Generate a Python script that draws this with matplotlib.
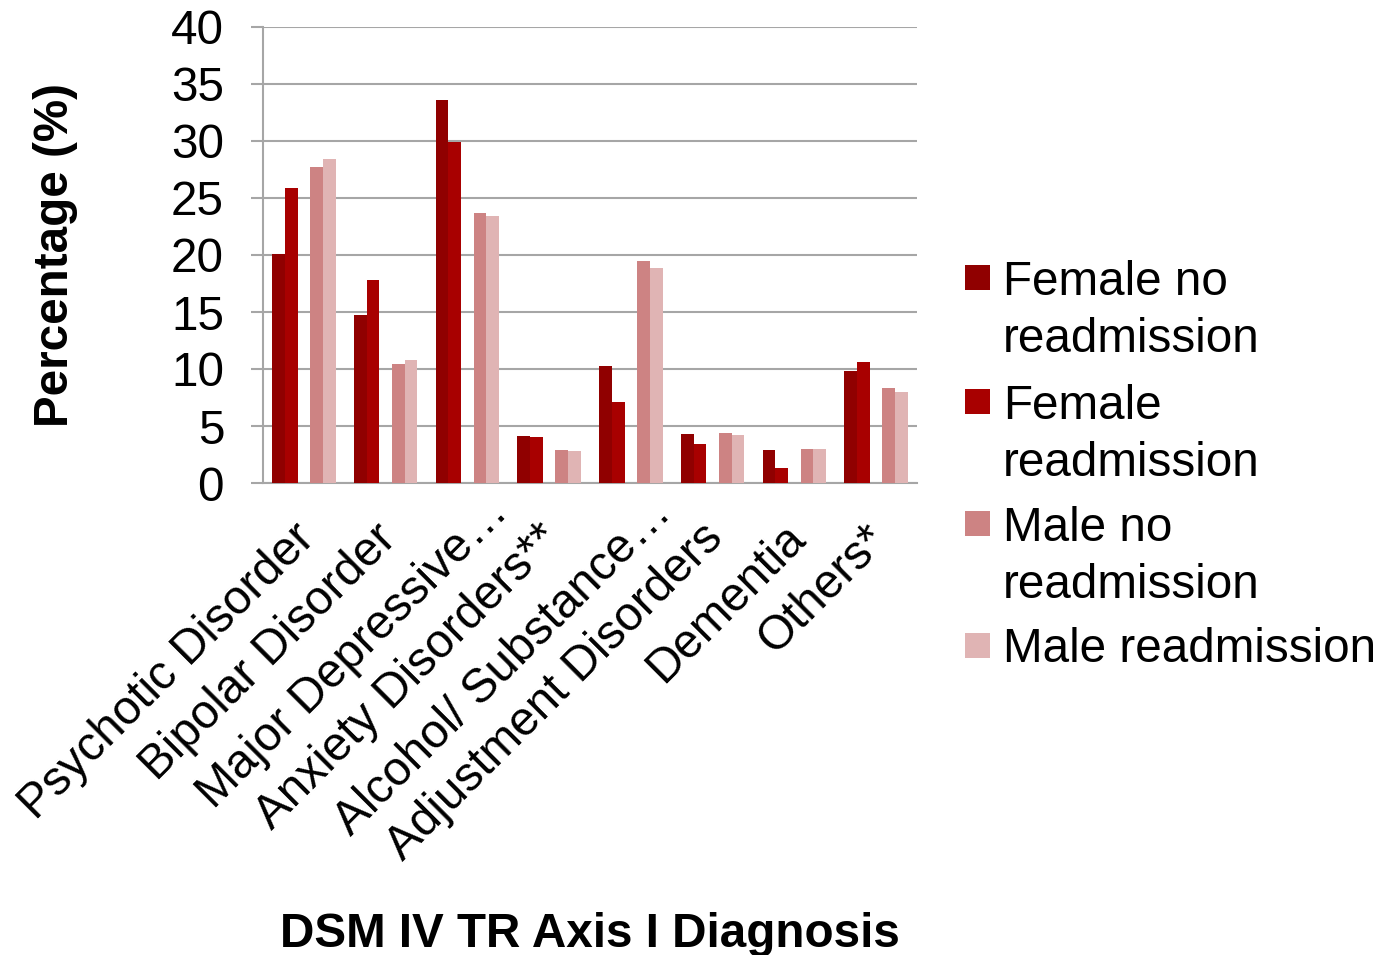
import matplotlib
matplotlib.use("Agg")
import matplotlib.pyplot as plt
import matplotlib.transforms as mtransforms
import numpy as np
from matplotlib.patches import Rectangle

plt.rcParams["font.family"] = ["Liberation Sans", "DejaVu Sans"]

# ── Data ─────────────────────────────────────────────────────────────────────

categories = [
    "Psychotic Disorder", "Bipolar Disorder", "Major Depressive…",
    "Anxiety Disorders**", "Alcohol/ Substance…", "Adjustment Disorders",
    "Dementia", "Others*",
]
series_names = [
    "Female no\nreadmission", "Female\nreadmission",
    "Male no\nreadmission", "Male readmission",
]
female_no_readm = [20.1, 14.7, 33.6, 4.15, 10.3, 4.3, 2.9, 9.8]
female_readm = [25.9, 17.8, 29.9, 4.05, 7.1, 3.4, 1.3, 10.6]
male_no_readm = [27.7, 10.4, 23.7, 2.9, 19.5, 4.4, 3.0, 8.3]
male_readm = [28.4, 10.8, 23.4, 2.8, 18.9, 4.2, 3.0, 8.0]

COLORS = ["#900000", "#A80000", "#CD8383", "#E0B4B4"]
FS = 34.3
GRID = "#A6A6A6"

# ── Figure ───────────────────────────────────────────────────────────────────

fig = plt.figure(figsize=(13.83, 9.55), dpi=100)
W, H = 1383, 955
ax = fig.add_axes([263 / W, 1 - 483 / H, (917 - 263) / W, (483 - 27) / H])

x = np.arange(len(categories))
bw = 0.155
offsets = [-2.0, -1.0, 1.0, 2.0]   # empty slot in the middle of each group
all_series = [female_no_readm, female_readm, male_no_readm, male_readm]
for vals, off, col in zip(all_series, offsets, COLORS):
    ax.bar(x + off * bw, vals, width=bw, color=col, zorder=3)

ax.set_xlim(-0.5, len(categories) - 0.5)
ax.set_ylim(0, 40)
ax.set_yticks(np.arange(0, 41, 5))
ax.yaxis.grid(True, color=GRID, linewidth=1.5, zorder=0)
ax.set_axisbelow(True)
for s in ["top", "right"]:
    ax.spines[s].set_visible(False)
for s in ["left", "bottom"]:
    ax.spines[s].set_color(GRID)
    ax.spines[s].set_linewidth(1.5)
ax.tick_params(axis="y", length=9, width=1.5, color=GRID, labelsize=FS, pad=19)
ax.tick_params(axis="x", length=0, labelsize=FS, pad=12)
ax.set_xticks(x)
ax.set_xticklabels(categories, rotation=45, ha="right", va="top",
                   rotation_mode="anchor")
for lbl in ax.get_xticklabels():
    dx, dy = -12, -16
    if lbl.get_text().endswith("…"):
        # truncated labels sit further up the diagonal
        dx, dy = 18, 10
    shift = mtransforms.ScaledTranslation(dx / 100, dy / 100,
                                          fig.dpi_scale_trans)
    lbl.set_transform(lbl.get_transform() + shift)

ax.set_ylabel("Percentage (%)", fontsize=FS, fontweight="bold")
ax.yaxis.set_label_coords(-0.283, 0.5)
ax.set_xlabel("DSM IV TR Axis I Diagnosis", fontsize=FS, fontweight="bold")
ax.xaxis.set_label_coords(0.5, -0.94)

# ── Legend (drawn by hand so the swatch sits on the first line) ─────────────
leg_y = [277, 401, 523, 645]
for name, col, yy in zip(series_names, COLORS, leg_y):
    fig.patches.append(Rectangle((965 / W, 1 - (yy + 12.5) / H), 25 / W, 25 / H,
                                 transform=fig.transFigure, facecolor=col,
                                 edgecolor="none"))
    first, *rest = name.split("\n")
    fig.text(1003 / W, 1 - yy / H, first, fontsize=FS, va="center_baseline")
    for k, line in enumerate(rest):
        fig.text(1003 / W, 1 - (yy + 57 * (k + 1)) / H, line, fontsize=FS,
                 va="center_baseline")

fig.savefig("out.png", dpi=100, facecolor="white")
